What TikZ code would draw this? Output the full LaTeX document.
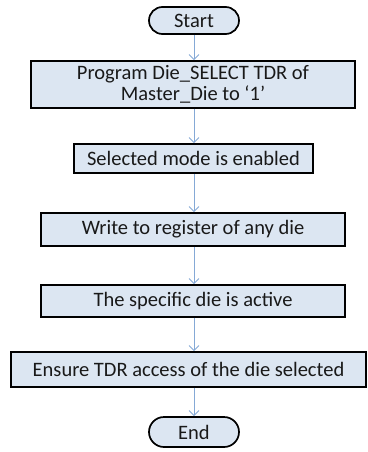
\documentclass[tikz,border=0pt]{standalone}
\usepackage{fontspec}
\setmainfont{Carlito}
\usetikzlibrary{arrows.meta,shapes.misc}
\definecolor{boxfill}{HTML}{DCE6F2}
\definecolor{flowline}{HTML}{85A9D6}
\begin{document}
\begin{tikzpicture}[x=1pt,y=-1pt,
  every node/.style={font=\fontsize{20.5}{21}\selectfont, text=black!90, inner sep=0pt, align=center},
  stepbox/.style={draw=black, line width=1.7pt, fill=boxfill, rectangle},
  termbox/.style={draw=black, line width=1.7pt, fill=boxfill, rounded rectangle},
  flow/.style={draw=flowline, line width=1pt, -{Straight Barb[length=5pt,width=10pt,line width=0.9pt]}}]
\useasboundingbox (0,0) rectangle (367,452);
\node[termbox, minimum width=90pt, minimum height=27pt] (start) at (194,20.5) {Start};
\node[stepbox, minimum width=324pt, minimum height=47pt] (prog) at (193,84.5) {Program Die\_SELECT TDR of\\Master\_Die to ‘1’};
\node[stepbox, minimum width=239pt, minimum height=29pt] (mode) at (193.5,158.5) {Selected mode is enabled};
\node[stepbox, minimum width=304pt, minimum height=33pt] (write) at (193,229.5) {Write to register of any die};
\node[stepbox, minimum width=304pt, minimum height=32pt] (active) at (193,301) {The specific die is active};
\node[stepbox, minimum width=355pt, minimum height=35pt] (access) at (188.5,369.5) {Ensure TDR access of the die selected};
\node[termbox, minimum width=90pt, minimum height=30pt] (end) at (194,432) {End};
\draw[flow] (start.south) -- (start.south |- prog.north);
\draw[flow] (start.south |- prog.south) -- (start.south |- mode.north);
\draw[flow] (start.south |- mode.south) -- (start.south |- write.north);
\draw[flow] (start.south |- write.south) -- (start.south |- active.north);
\draw[flow] (start.south |- active.south) -- (start.south |- access.north);
\draw[flow] (start.south |- access.south) -- (end.north);
\end{tikzpicture}
\end{document}
